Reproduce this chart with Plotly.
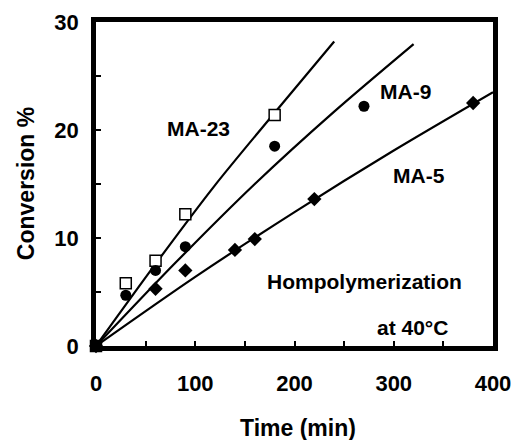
import plotly.graph_objects as go

# Measured data points (Time in min, Conversion in %)
ma23_time = [0, 30, 60, 90, 180]
ma23_conv = [0, 5.8, 7.9, 12.2, 21.4]

ma9_time = [0, 30, 60, 90, 180, 270]
ma9_conv = [0, 4.7, 7.0, 9.2, 18.5, 22.2]

ma5_time = [0, 60, 90, 140, 160, 220, 380]
ma5_conv = [0, 5.3, 7.0, 8.9, 9.9, 13.6, 22.5]

# Fitted curves
ma23_fit_time = [0, 60, 120, 180, 240]
ma23_fit_conv = [0, 7.6, 14.9, 21.6, 28.2]

ma9_fit_time = [0, 80, 160, 240, 320]
ma9_fit_conv = [0, 7.7, 15.0, 21.7, 27.95]

ma5_fit_time = [0, 100, 200, 300, 400]
ma5_fit_conv = [0, 6.4, 12.4, 18.1, 23.5]

x_title = "Time (min)"
y_title = "Conversion %"

FONT = "Liberation Sans, Arial, Helvetica, sans-serif"

fig = go.Figure()

for fx, fy in [(ma23_fit_time, ma23_fit_conv), (ma9_fit_time, ma9_fit_conv), (ma5_fit_time, ma5_fit_conv)]:
    fig.add_trace(go.Scatter(x=fx, y=fy, mode="lines",
                             line=dict(color="black", width=2.2, shape="spline", smoothing=0.8),
                             showlegend=False, hoverinfo="skip"))

sq_fill = ["black" if t == 0 else "white" for t in ma23_time]
fig.add_trace(go.Scatter(x=ma23_time, y=ma23_conv, mode="markers",
                         marker=dict(symbol="square", size=11, color=sq_fill,
                                     line=dict(color="black", width=1.5)),
                         showlegend=False, cliponaxis=False))
fig.add_trace(go.Scatter(x=ma9_time, y=ma9_conv, mode="markers",
                         marker=dict(symbol="circle", size=11, color="black"),
                         showlegend=False, cliponaxis=False))
fig.add_trace(go.Scatter(x=ma5_time, y=ma5_conv, mode="markers",
                         marker=dict(symbol="diamond", size=11, color="black"),
                         showlegend=False, cliponaxis=False))

labels = [
    ("MA-23", 103, 20.1),
    ("MA-9", 312, 23.6),
    ("MA-5", 325, 15.8),
    ("Hompolymerization", 271, 6.0),
    ("at 40°C", 319, 1.75),
]
for text, x, y in labels:
    fig.add_annotation(x=x, y=y, text=text, showarrow=False, xanchor="center", yanchor="middle",
                       font=dict(family=FONT, size=21, color="black", weight="bold"))

title_font = dict(family=FONT, size=23, color="black", weight="bold")
fig.add_annotation(x=0.508, y=-0.253, xref="paper", yref="paper", text=x_title,
                   showarrow=False, xanchor="center", yanchor="middle", font=title_font)
fig.add_annotation(x=-0.176, y=0.5, xref="paper", yref="paper", text=y_title, textangle=-90,
                   showarrow=False, xanchor="center", yanchor="middle", font=title_font)

axis_common = dict(
    showline=True, linecolor="black", linewidth=4.5, mirror=True,
    ticks="inside", ticklen=5, tickwidth=2, tickcolor="black",
    showgrid=False, zeroline=False, automargin=False,
    tickfont=dict(family=FONT, size=22, color="black", weight="bold"),
)

fig.update_xaxes(range=[0, 400], dtick=100, tick0=0,
                 minor=dict(dtick=50, ticks="inside", ticklen=5, tickwidth=2, tickcolor="black"),
                 ticklabelstandoff=14, **axis_common)
fig.update_yaxes(range=[0, 30], dtick=10, tick0=0,
                 minor=dict(dtick=5, ticks="inside", ticklen=5, tickwidth=2, tickcolor="black"),
                 ticklabelstandoff=8, **axis_common)

fig.update_layout(
    width=515, height=440,
    margin=dict(l=96, r=22, t=22, b=94),
    paper_bgcolor="white", plot_bgcolor="white",
)

fig.write_html("out.html")
